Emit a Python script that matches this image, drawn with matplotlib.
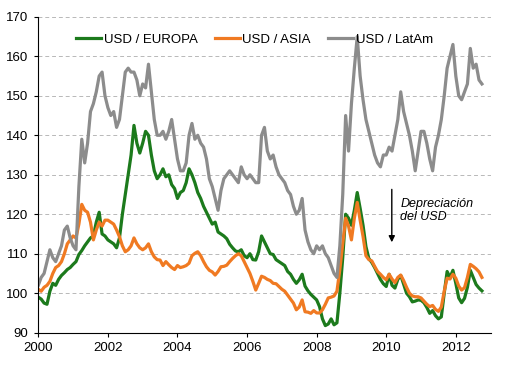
import numpy as np
import matplotlib
matplotlib.use("Agg")
from matplotlib import pyplot as plt

# valores mensuales, ene-2000 a oct-2012 (indice base 100)
europa = [99, 98.5, 97.5, 97.2, 100.5, 102.5, 102, 103.5, 104.5, 105.2, 106, 106.5,
          107.3, 108, 109.8, 110.8, 112, 113, 114, 114.5, 118, 120.5, 115, 114.5,
          113.5, 113, 112.5, 111.5, 114, 120, 125, 130, 135, 142.5, 138, 135.5,
          138, 141, 140, 135, 131, 129, 130, 131.5, 129.5, 130, 127.5, 126.5,
          124, 125.5, 126, 128, 131.5, 130, 128, 125.5, 124, 122, 120.5, 119,
          117.5, 118, 115.5, 115, 114.5, 113.8, 112.4, 111.5, 110.7, 110.5, 111, 109.5,
          109, 110, 108.5, 108.4, 110.5, 114.5, 113, 111.5, 110, 109.8, 108.5, 108,
          107.5, 107, 105.5, 104.8, 103.5, 102.5, 103.4, 104.8, 101.8, 100.6, 99.7, 99,
          98.3, 96.6, 93.5, 91.8, 92.2, 93.5, 92, 92.5, 100, 109, 120, 119,
          117.2, 121, 125.5, 121.5, 117.2, 111.8, 108.8, 107.8, 106.5, 105, 103.5, 102.4,
          101.7, 104.8, 102, 101.3, 103.5, 104.5, 102.3, 100, 99.1, 97.8, 98, 98.3,
          98.2, 97.6, 96.4, 94.9, 95.6, 94.3, 93.5, 94, 100, 105.5, 104, 105.8,
          102.5, 98.8, 97.6, 98.7, 101.5, 105.8, 104, 102.2, 101.3, 100.6]

asia = [101, 100.5, 101.5, 102, 103, 105, 106.5, 107, 108, 110, 112.5, 113.5,
        114.5, 114, 117.5, 122.5, 121, 120.5, 118, 113.5, 116, 118, 117, 118.5,
        118.5, 118, 117.5, 116, 114.3, 112, 110.5, 111, 112, 114, 112.5, 111.5,
        111, 111.5, 112.5, 110.5, 109.2, 108.5, 108.4, 107, 108, 107.2, 106.5, 106,
        107, 106.5, 106.7, 107, 107.6, 109.5, 110.1, 110.5, 109.5, 108, 106.7, 105.8,
        105.4, 104.6, 105.5, 106.7, 106.8, 107.1, 108, 108.8, 109.5, 110, 109.5, 108,
        106.5, 105, 103, 100.8, 102.5, 104.3, 104, 103.5, 103.2, 102.5, 102.4, 101.7,
        101, 100.5, 99.5, 98.5, 97.5, 95.8, 96.5, 98.3, 95.3, 95.2, 94.9, 95.6,
        95, 95, 95.8, 97.2, 98.8, 99, 99.3, 100.5, 106, 112.5, 119, 117,
        113.5, 119, 123, 118.5, 114.4, 109.5, 108.5, 108.2, 106.8, 105.5, 104.8, 104,
        103.4, 104.8, 103.6, 102.7, 104, 104.6, 103.2, 101.5, 100, 99.3, 99.1, 99.1,
        98.8, 98, 97.2, 96.6, 96.9, 95.9, 95.4, 96.5, 100.5, 103.8, 103.6, 104.8,
        103.8, 101.8, 100.8, 101.4, 104, 107.3, 106.8, 106.2, 105.4, 104]

latam = [102, 104, 105, 108, 111, 109, 108, 110, 112, 116, 117, 114,
         112, 111, 127, 139, 133, 138, 146, 148, 151, 155, 156, 150,
         147, 145, 146, 142, 144, 150, 156, 157, 156, 156, 154, 150,
         153, 152, 158, 151, 144, 140, 140, 141, 139, 141, 144, 139,
         134, 131, 131, 133, 140, 143, 139, 140, 138, 137, 134, 129,
         127, 124, 121, 126, 129, 130, 131, 130, 129, 128, 132, 130,
         129, 130, 129, 128, 128, 140, 142, 136, 134, 135, 132, 130,
         129, 128, 126, 125, 122, 120, 121, 124, 116, 113, 111, 110,
         112, 111, 112, 110, 109, 107, 105, 104, 112, 125, 145, 136,
         148, 157, 165, 155, 149, 144, 141, 138, 135, 133, 132, 135,
         135, 137, 136, 140, 144, 151, 146, 143, 140, 136, 131, 136,
         141, 141, 138, 134, 131, 137, 140, 144, 150, 157, 160, 163,
         155, 150, 149, 151, 153, 162, 157, 158, 154, 153]

years = 2000 + np.arange(len(latam)) / 12.0
xticks = [2000, 2002, 2004, 2006, 2008, 2010, 2012]
yticks = [90, 100, 110, 120, 130, 140, 150, 160, 170]

plt.rcParams['font.family'] = ['Liberation Sans', 'DejaVu Sans']

fig = plt.figure(figsize=(5.14, 3.69), dpi=100)
ax = fig.add_axes([0.0745, 0.0984, 0.880, 0.856])

ax.plot(years, europa, color='#1C7A1C', lw=2.3, label='USD / EUROPA')
ax.plot(years, asia, color='#F07A22', lw=2.3, label='USD / ASIA')
ax.plot(years, latam, color='#8C8C8C', lw=2.3, label='USD / LatAm')

ax.set_xlim(2000, 2013)
ax.set_ylim(90, 170)
ax.set_xticks(xticks)
ax.set_yticks(yticks)
ax.tick_params(labelsize=9.5, length=3, width=0.8, direction='out', pad=4)
ax.yaxis.grid(True, ls=(0, (4, 3)), color='#b8b8b8', lw=0.7)
ax.set_axisbelow(True)
for s in ['top', 'right']:
    ax.spines[s].set_visible(False)

ax.legend(loc='upper center', bbox_to_anchor=(0.478, 0.985), ncol=3, frameon=False,
          fontsize=9.5, handlelength=1.9, handletextpad=0.2, columnspacing=1.3)

ax.annotate('', xy=(2010.16, 112.2), xytext=(2010.16, 127),
            arrowprops=dict(arrowstyle='-|>', color='black', lw=1.0, mutation_scale=9))
ax.text(2010.4, 121, 'Depreciación\ndel USD', fontsize=9, style='italic',
        va='center', ha='left', linespacing=1.1)

fig.savefig('out.png', dpi=100)
